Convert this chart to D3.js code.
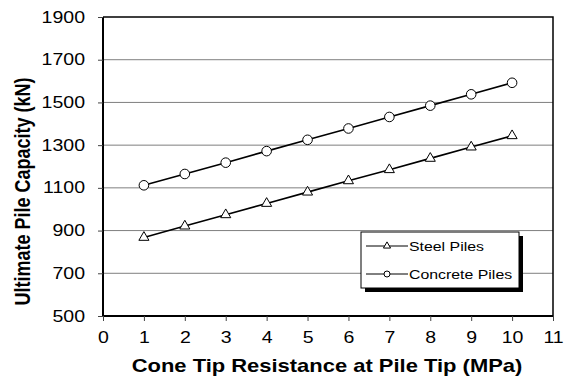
<!DOCTYPE html>
<html>
<head>
<meta charset="utf-8">
<script src="https://cdn.jsdelivr.net/npm/d3@7"></script>
<style>
  html, body { margin: 0; padding: 0; background: #fff; }
  svg { display: block; font-family: "Liberation Sans", Arial, sans-serif; }
</style>
</head>
<body>
<svg id="chart" width="565" height="389"></svg>
<script>
// Cone tip resistance (MPa) at the pile tip
const tipResistance = [1, 2, 3, 4, 5, 6, 7, 8, 9, 10];
// Ultimate pile capacity (kN)
const steelPiles = [868, 921, 974, 1027, 1080, 1133, 1185, 1238, 1291, 1344];
const concretePiles = [1112, 1165, 1218, 1272, 1325, 1378, 1432, 1485, 1538, 1592];
const xTicks = [0, 1, 2, 3, 4, 5, 6, 7, 8, 9, 10, 11];
const yTicks = [500, 700, 900, 1100, 1300, 1500, 1700, 1900];
const seriesNames = ["Steel Piles", "Concrete Piles"];

const svg = d3.select("#chart");
const plot = { left: 103, right: 553, top: 17, bottom: 316 };
// text is drawn slightly wide, as in the original sheet
const stretch = 1.22;

const x = d3.scaleLinear().domain([0, 11]).range([plot.left, plot.right]);
const y = d3.scaleLinear().domain([500, 1900]).range([plot.bottom, plot.top]);

// horizontal gridlines
svg.append("g")
  .selectAll("line")
  .data(yTicks.filter(v => v > 500 && v < 1900))
  .join("line")
  .attr("x1", plot.left).attr("x2", plot.right)
  .attr("y1", d => y(d)).attr("y2", d => y(d))
  .attr("stroke", "#7f7f7f").attr("stroke-width", 1);

// plot frame (top and right)
svg.append("path")
  .attr("d", `M${plot.left},${y(1900)}H${plot.right}V${plot.bottom}`)
  .attr("fill", "none").attr("stroke", "#000").attr("stroke-width", 1.5);

// axes
const yAxis = d3.axisLeft(y).tickValues(yTicks).tickSize(5).tickPadding(13).tickFormat(d3.format("d"));
const xAxis = d3.axisBottom(x).tickValues(xTicks).tickSize(5).tickPadding(11).tickFormat(d3.format("d"));

const gy = svg.append("g").attr("transform", `translate(${plot.left},0)`).call(yAxis);
const gx = svg.append("g").attr("transform", `translate(0,${plot.bottom})`).call(xAxis);

[gx, gy].forEach(g => {
  g.select(".domain").attr("stroke", "#000").attr("stroke-width", 2);
  g.selectAll(".tick line").attr("stroke", "#444").attr("stroke-width", 1);
  g.selectAll(".tick text")
    .attr("fill", "#000")
    .style("font-family", "'Liberation Sans', Arial, sans-serif")
    .style("font-size", "16px");
});
gx.select(".domain").attr("d", `M${plot.left},0H${plot.right}`);
gy.select(".domain").attr("d", `M0,${plot.bottom}V${plot.top}`);

// widen tick labels about their anchor points
gy.selectAll(".tick text").each(function () {
  const t = d3.select(this);
  const ax = +t.attr("x");
  t.attr("x", 0).attr("transform", `translate(${ax},0) scale(${stretch},1)`);
});
gx.selectAll(".tick text").attr("transform", `scale(${stretch},1)`);

// axis titles
svg.append("text")
  .attr("transform", `translate(327,372) scale(${stretch},1)`)
  .attr("text-anchor", "middle")
  .style("font-size", "18px").style("font-weight", "bold")
  .text("Cone Tip Resistance at Pile Tip (MPa)");

svg.append("text")
  .attr("transform", `translate(30,191.5) scale(${stretch},1) rotate(-90)`)
  .attr("text-anchor", "middle")
  .style("font-size", "18px").style("font-weight", "bold")
  .text("Ultimate Pile Capacity (kN)");

// series
const line = d3.line().x(d => x(d[0])).y(d => y(d[1]));
const triangle = d3.symbol().type(d3.symbolTriangle).size(44);

const steelData = tipResistance.map((t, i) => [t, steelPiles[i]]);
const concreteData = tipResistance.map((t, i) => [t, concretePiles[i]]);

function drawSeries(data, marker) {
  const g = svg.append("g");
  g.append("path").attr("d", line(data))
    .attr("fill", "none").attr("stroke", "#000").attr("stroke-width", 1.6);
  if (marker === "triangle") {
    g.selectAll("path.m").data(data).join("path").attr("class", "m")
      .attr("d", triangle)
      .attr("transform", d => `translate(${x(d[0])},${y(d[1])})`)
      .attr("fill", "#fff").attr("stroke", "#000").attr("stroke-width", 1);
  } else {
    g.selectAll("circle").data(data).join("circle")
      .attr("cx", d => x(d[0])).attr("cy", d => y(d[1])).attr("r", 4.8)
      .attr("fill", "#fff").attr("stroke", "#000").attr("stroke-width", 1);
  }
}
drawSeries(steelData, "triangle");
drawSeries(concreteData, "circle");

// legend with drop shadow
const lg = { x: 361, y: 232, w: 158, h: 56 };
svg.append("rect")
  .attr("x", lg.x + 4).attr("y", lg.y + 4).attr("width", lg.w).attr("height", lg.h)
  .attr("fill", "#000");
svg.append("rect")
  .attr("x", lg.x).attr("y", lg.y).attr("width", lg.w).attr("height", lg.h)
  .attr("fill", "#fff").attr("stroke", "#000").attr("stroke-width", 1);

seriesNames.forEach((name, i) => {
  const cy = lg.y + 14 + i * 28;
  const g = svg.append("g");
  g.append("line").attr("x1", lg.x + 5).attr("x2", lg.x + 47)
    .attr("y1", cy).attr("y2", cy).attr("stroke", "#000").attr("stroke-width", 1);
  if (i === 0) {
    g.append("path").attr("d", d3.symbol().type(d3.symbolTriangle).size(22))
      .attr("transform", `translate(${lg.x + 26},${cy})`)
      .attr("fill", "#fff").attr("stroke", "#000").attr("stroke-width", 1);
  } else {
    g.append("circle").attr("cx", lg.x + 26).attr("cy", cy).attr("r", 3)
      .attr("fill", "#fff").attr("stroke", "#000").attr("stroke-width", 1);
  }
  g.append("text")
    .attr("transform", `translate(${lg.x + 48},${cy + 5}) scale(${stretch},1)`)
    .style("font-size", "13px").text(name);
});
</script>
</body>
</html>
